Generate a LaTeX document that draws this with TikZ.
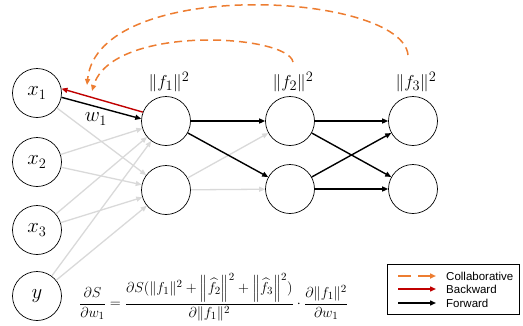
\documentclass[tikz,border=0pt]{standalone}
\usepackage{amsmath}
\usepackage{fontspec}
\newfontfamily\legfont{Liberation Sans}
\usetikzlibrary{arrows.meta}
\definecolor{corange}{RGB}{237,125,49}
\definecolor{cred}{RGB}{192,0,0}
\definecolor{cgray}{RGB}{217,217,217}
\tikzset{
  neuron/.style={draw, circle, line width=0.7pt, minimum size=49pt, inner sep=0pt, font=\fontsize{22}{26}\selectfont},
  lbl/.style={font=\fontsize{19}{22}\selectfont, inner sep=0pt},
  fwd/.style={line width=1.4pt, -{Triangle[length=6pt,width=5pt]}},
  gry/.style={draw=cgray, line width=1.3pt, -{Triangle[length=6pt,width=5pt]}},
  bwd/.style={draw=cred, line width=1.4pt, -{Triangle[length=6pt,width=5pt]}},
  col/.style={draw=corange, line width=1.5pt, dash pattern=on 8pt off 5pt, -{Triangle[length=6pt,width=5pt]}},
}
\begin{document}
\begin{tikzpicture}[x=1pt,y=-1pt]
\useasboundingbox (0,0) rectangle (523,325);
% inputs
\node[neuron] (x1) at (37,93) {$x_1$};
\node[neuron] (x2) at (37,162) {$x_2$};
\node[neuron] (x3) at (37,230) {$x_3$};
\node[neuron] (y) at (37,296) {$y$};
% hidden
\node[neuron] (a1) at (166,121) {};
\node[neuron] (a2) at (166,190) {};
\node[neuron] (b1) at (290,121) {};
\node[neuron] (b2) at (290,189) {};
\node[neuron] (c1) at (413,121) {};
\node[neuron] (c2) at (413,189) {};
% labels
\node[lbl] (l1) at (169,82) {$\|f_1\|^2$};
\node[lbl] (l2) at (293,82) {$\|f_2\|^2$};
\node[lbl] (l3) at (416,82) {$\|f_3\|^2$};
% gray edges
\draw[gry] (x1) -- (a2);
\draw[gry] (x2) -- (a1);
\draw[gry] (x2) -- (a2);
\draw[gry] (x3) -- (a1);
\draw[gry] (x3) -- (a2);
\draw[gry] (y) -- (a1);
\draw[gry] (y) -- (a2);
\draw[gry] (a2) -- (b1);
\draw[gry] (a2) -- (b2);
% forward edges
\draw[fwd] (x1.-10) -- (a1.175);
\draw[bwd] (a1.159) -- (x1.10);
\node[font=\fontsize{22}{26}\selectfont, inner sep=0pt] (w) at (96,119) {$w_1$};
\draw[fwd] (a1) -- (b1);
\draw[fwd] (a1) -- (b2);
\draw[fwd] (b1) -- (c1);
\draw[fwd] (b1) -- (c2);
\draw[fwd] (b2) -- (c1);
\draw[fwd] (b2) -- (c2);
% collaborative
\coordinate (s2) at (293,62);
\coordinate (s3) at (408,55);
\coordinate (t2) at (92,91);
\coordinate (t1) at (87,85);
\draw[col] (s2) .. controls (288,34) and (112,24) .. (t2);
\draw[col] (s3) .. controls (402,-8) and (98,-24) .. (t1);
% formula
\node[inner sep=0pt, anchor=west] (eq) at (79,297) {\fontsize{15.6}{19}\selectfont $\dfrac{\partial S}{\partial w_1} = \dfrac{\partial S(\|f_1\|^2 + \left\|\widehat{f_2}\right\|^2 + \left\|\widehat{f_3}\right\|^2)}{\partial \|f_1\|^2}\cdot\dfrac{\partial\|f_1\|^2}{\partial w_1}$};
% legend
\node[draw, line width=0.6pt, minimum width=132pt, minimum height=50pt, inner sep=0pt] (leg) at (453,289) {};
\coordinate (la1) at (398,276); \coordinate (la2) at (436,276);
\coordinate (lb1) at (398,289); \coordinate (lb2) at (436,289);
\coordinate (lc1) at (398,303); \coordinate (lc2) at (436,303);
\draw[draw=corange, line width=1.5pt, dash pattern=on 13pt off 7pt, -{Triangle[length=6pt,width=5pt]}] (la1) -- (la2);
\draw[bwd] (lb1) -- (lb2);
\draw[fwd] (lc1) -- (lc2);
\node[anchor=west, inner sep=0pt, font=\legfont\fontsize{11.5}{13}\selectfont] (tl1) at (446,276) {Collaborative};
\node[anchor=west, inner sep=0pt, font=\legfont\fontsize{11.5}{13}\selectfont] (tl2) at (446,289) {Backward};
\node[anchor=west, inner sep=0pt, font=\legfont\fontsize{11.5}{13}\selectfont] (tl3) at (446,303) {Forward};
\end{tikzpicture}
\end{document}
